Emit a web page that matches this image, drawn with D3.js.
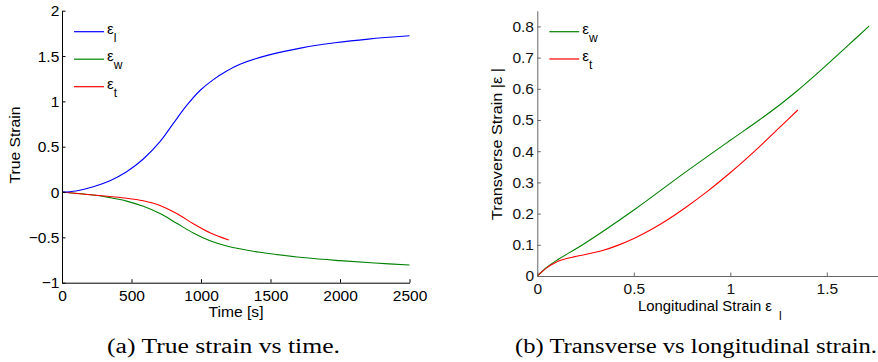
<!DOCTYPE html>
<html>
<head>
<meta charset="utf-8">
<script src="https://cdn.jsdelivr.net/npm/d3@7"></script>
<style>
  html, body { margin: 0; padding: 0; background: #fff; }
  svg { display: block; }
  .sans { font-family: "Liberation Sans", Arial, Helvetica, sans-serif; }
  .serif { font-family: "Liberation Serif", "Times New Roman", serif; }
</style>
</head>
<body>
<svg id="chart" width="878" height="362"></svg>
<script>
// ---------- Data: (a) True strain vs time ----------
const timeL = [0, 100, 225, 345, 465, 585, 705, 801, 897, 993, 1089, 1185, 1281, 1484, 1725, 1964, 2204, 2500];
const epsL  = [0, 0.012, 0.058, 0.125, 0.224, 0.364, 0.555, 0.757, 0.955, 1.12, 1.24, 1.335, 1.41, 1.51, 1.59, 1.646, 1.687, 1.723];

const timeW = [0, 225, 345, 465, 585, 705, 825, 945, 1065, 1185, 1424, 1750, 2000, 2250, 2500];
const epsW  = [0, -0.033, -0.062, -0.1, -0.158, -0.238, -0.345, -0.452, -0.538, -0.595, -0.665, -0.725, -0.757, -0.783, -0.805];

const timeT = [0, 225, 345, 465, 585, 705, 825, 945, 1065, 1200];
const epsT  = [0, -0.033, -0.05, -0.068, -0.097, -0.148, -0.237, -0.35, -0.45, -0.53];

const xTicksA = [0, 500, 1000, 1500, 2000, 2500];
const xLabelsA = ["0", "500", "1000", "1500", "2000", "2500"];
const yTicksA = [-1, -0.5, 0, 0.5, 1, 1.5, 2];
const yLabelsA = ["\u22121", "\u22120.5", "0", "0.5", "1", "1.5", "2"];

// ---------- Data: (b) Transverse vs longitudinal strain ----------
const longW  = [0, 0.05, 0.1, 0.247, 0.506, 0.75, 1.0, 1.15, 1.257, 1.344, 1.43, 1.603, 1.719];
const transW = [0, 0.028, 0.05, 0.105, 0.214, 0.325, 0.435, 0.5, 0.549, 0.592, 0.638, 0.735, 0.801];

const longT  = [0, 0.05, 0.09, 0.126, 0.195, 0.334, 0.42, 0.506, 0.593, 0.679, 0.765, 0.883, 0.998, 1.085, 1.171, 1.257, 1.35];
const transT = [0, 0.027, 0.042, 0.051, 0.062, 0.081, 0.099, 0.122, 0.15, 0.182, 0.218, 0.272, 0.33, 0.377, 0.426, 0.477, 0.532];

const xTicksB = [0, 0.5, 1, 1.5];
const xLabelsB = ["0", "0.5", "1", "1.5"];
const yTicksB = [0, 0.1, 0.2, 0.3, 0.4, 0.5, 0.6, 0.7, 0.8];
const yLabelsB = ["0", "0.1", "0.2", "0.3", "0.4", "0.5", "0.6", "0.7", "0.8"];

const BLUE = "#0000ff", GREEN = "#008000", RED = "#ff0000";

const svg = d3.select("#chart");
const FS = 15.5;

function zip(xs, ys) { return xs.map((x, i) => [x, ys[i]]); }

function drawAxes(g, x, y, xt, xl, yt, yl, axisColor, textColor, padX, padY) {
  const xa = g.append("g")
    .attr("transform", `translate(0,${y.range()[0]})`)
    .call(d3.axisBottom(x).tickValues(xt).tickFormat((d, i) => xl[i])
      .tickSizeInner(-3.5).tickSizeOuter(0).tickPadding(padX));
  const ya = g.append("g")
    .attr("transform", `translate(${x.range()[0]},0)`)
    .call(d3.axisLeft(y).tickValues(yt).tickFormat((d, i) => yl[i])
      .tickSizeInner(-3.5).tickSizeOuter(0).tickPadding(padY));
  [xa, ya].forEach(a => {
    a.select(".domain").attr("stroke", axisColor).attr("stroke-width", 1);
    a.selectAll(".tick line").attr("stroke", axisColor);
    a.selectAll(".tick text").attr("fill", textColor)
      .attr("font-family", '"Liberation Sans", Arial, sans-serif').attr("font-size", FS);
    a.attr("font-family", null).attr("font-size", null);
  });
}

function legend(g, x0, y0, step, items) {
  items.forEach((it, i) => {
    const yy = y0 + i * step;
    g.append("line").attr("x1", x0).attr("x2", x0 + 30).attr("y1", yy).attr("y2", yy)
      .attr("stroke", it.color).attr("stroke-width", 1.2);
    const t = g.append("text").attr("class", "sans").attr("x", x0 + 33).attr("y", yy + 2)
      .attr("font-size", 15).attr("fill", "#000");
    t.append("tspan").text("\u03b5");
    t.append("tspan").attr("dy", 8).attr("font-size", 12).text(it.sub);
  });
}

const curve = d3.curveCatmullRom.alpha(0.5);

// ---------- Panel (a) ----------
{
  const g = svg.append("g");
  const x = d3.scaleLinear().domain([0, 2500]).range([62, 409.5]);
  const y = d3.scaleLinear().domain([-1, 2]).range([282.7, 10.7]);
  const line = d3.line().x(d => x(d[0])).y(d => y(d[1])).curve(curve);

  g.append("path").datum(zip(timeW, epsW)).attr("d", line).attr("fill", "none").attr("stroke", GREEN).attr("stroke-width", 1.1);
  g.append("path").datum(zip(timeT, epsT)).attr("d", line).attr("fill", "none").attr("stroke", RED).attr("stroke-width", 1.1);
  g.append("path").datum(zip(timeL, epsL)).attr("d", line).attr("fill", "none").attr("stroke", BLUE).attr("stroke-width", 1.1);

  drawAxes(g, x, y, xTicksA, xLabelsA, yTicksA, yLabelsA, "#000", "#000", 7.8, 2.7);

  g.append("text").attr("class", "sans").attr("x", 236).attr("y", 317)
    .attr("text-anchor", "middle").attr("font-size", FS)
    .attr("textLength", 55).attr("lengthAdjust", "spacingAndGlyphs").text("Time [s]");
  g.append("text").attr("class", "sans").attr("transform", "translate(19.5,145) rotate(-90)")
    .attr("text-anchor", "middle").attr("font-size", FS)
    .attr("textLength", 77).attr("lengthAdjust", "spacingAndGlyphs").text("True Strain");

  legend(g, 74, 31.7, 27.5, [
    { color: BLUE, sub: "l" }, { color: GREEN, sub: "w" }, { color: RED, sub: "t" }
  ]);

  g.append("text").attr("class", "serif").attr("x", 107).attr("y", 353)
    .attr("font-size", 20).attr("textLength", 233).attr("lengthAdjust", "spacingAndGlyphs")
    .text("(a)  True strain vs time.");
}

// ---------- Panel (b) ----------
{
  const g = svg.append("g");
  const x = d3.scaleLinear().domain([0, 1.8]).range([537.3, 537.3 + 1.8 * 193]);
  const y = d3.scaleLinear().domain([0, 0.85]).range([276, 276 - 0.85 * 312]);
  const line = d3.line().x(d => x(d[0])).y(d => y(d[1])).curve(curve);

  g.append("path").datum(zip(longW, transW)).attr("d", line).attr("fill", "none").attr("stroke", GREEN).attr("stroke-width", 1.1);
  g.append("path").datum(zip(longT, transT)).attr("d", line).attr("fill", "none").attr("stroke", RED).attr("stroke-width", 1.1);

  drawAxes(g, x, y, xTicksB, xLabelsB, yTicksB, yLabelsB, "#666", "#111", 6.5, 3.3);

  g.append("text").attr("class", "sans").attr("x", 638).attr("y", 311).attr("font-size", FS)
    .attr("textLength", 134).attr("lengthAdjust", "spacingAndGlyphs")
    .text("Longitudinal Strain \u03b5");
  g.append("text").attr("class", "sans").attr("x", 779).attr("y", 320).attr("font-size", 12).text("l");

  g.append("text").attr("class", "sans").attr("transform", "translate(502,144) rotate(-90)")
    .attr("text-anchor", "middle").attr("font-size", FS)
    .attr("textLength", 152).attr("lengthAdjust", "spacingAndGlyphs")
    .text("Transverse Strain |\u03b5 |");

  legend(g, 549.3, 31.7, 27.3, [
    { color: GREEN, sub: "w" }, { color: RED, sub: "t" }
  ]);

  g.append("text").attr("class", "serif").attr("x", 515).attr("y", 353)
    .attr("font-size", 20).attr("textLength", 362).attr("lengthAdjust", "spacingAndGlyphs")
    .text("(b)  Transverse vs longitudinal strain.");
}
</script>
</body>
</html>
